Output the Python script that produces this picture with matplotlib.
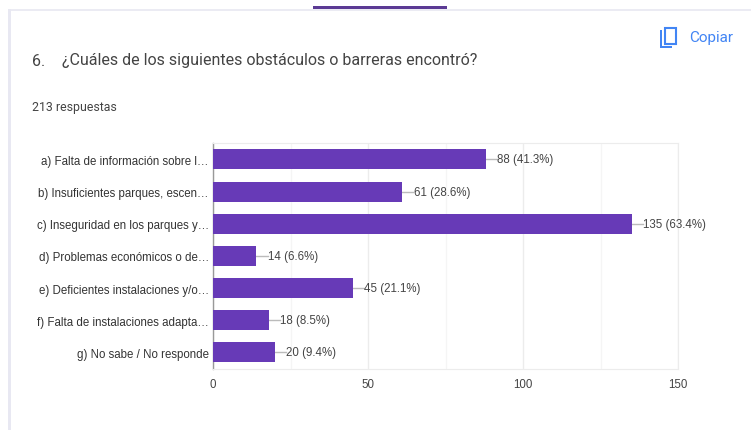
import matplotlib.pyplot as plt
from matplotlib.patches import Rectangle, FancyBboxPatch

categorias = ['a) Falta de información sobre l…', 'b) Insuficientes parques, escen…',
              'c) Inseguridad en los parques y…', 'd) Problemas económicos o de…',
              'e) Deficientes instalaciones y/o…', 'f) Falta de instalaciones adapta…',
              'g) No sabe / No responde']
respuestas = [88, 61, 135, 14, 45, 18, 20]
porcentajes = [41.3, 28.6, 63.4, 6.6, 21.1, 8.5, 9.4]
ticks_x = [0, 50, 100, 150]

W, H = 751, 431
MORADO = '#673ab7'
AZUL = '#4285f4'
GRIS = '#444444'

fig = plt.figure(figsize=(W / 100, H / 100), dpi=100)
fig.patch.set_facecolor('white')


def px_rect(x, y, w, h, **kw):
    # rectangulo en pixeles de la imagen (y hacia abajo)
    fig.add_artist(Rectangle((x / W, 1 - (y + h) / H), w / W, h / H,
                             transform=fig.transFigure, **kw))


def px_text(x, y, s, **kw):
    fig.text(x / W, 1 - y / H, s, **kw)


# marco de la tarjeta
px_rect(8, 10, 743, 2, color='#ebebf3', lw=0)
px_rect(8, 10, 3, 421, color='#e8e8f2', lw=0)
px_rect(313, 7, 134, 3, color='#5b3a94', lw=0)

# textos de cabecera
px_text(32, 61, '6.', family='Roboto', fontsize=11.5, color=GRIS, va='center')
px_text(62, 61, '¿Cuáles de los siguientes obstáculos o barreras encontró?',
        family='Roboto', fontsize=11.5, color=GRIS, va='center')
px_text(32, 107, '213 respuestas', family='Roboto', fontsize=8.9, color=GRIS, va='center')
px_text(689, 38, 'Copiar', family='Roboto', fontsize=11, color=AZUL, va='center')

# icono de copiar
px_rect(660, 31, 2, 17, color=AZUL, lw=0)
px_rect(660, 47, 12, 2, color=AZUL, lw=0)
fig.add_artist(FancyBboxPatch((665 / W, 1 - 45 / H), 11 / W, 16 / H,
                              boxstyle='square,pad=0', transform=fig.transFigure,
                              fc='white', ec=AZUL, lw=1.5))

# grafico
ax = fig.add_axes([213 / W, 1 - 369.5 / H, (678 - 213) / W, (369.5 - 144.3) / H])
y = range(len(categorias))
barras = ax.barh(y, respuestas, height=0.62, color=MORADO, zorder=3)
ax.set_xlim(0, 150)
ax.set_ylim(len(categorias) - 0.5, -0.5)

ax.set_yticks(list(y))
ax.set_yticklabels(categorias, family='Liberation Sans', fontsize=8.3, color='#333333')
ax.set_xticks(ticks_x)
ax.set_xticklabels(ticks_x, family='Liberation Sans', fontsize=8.3, color=GRIS)
ax.set_xticks([25, 75, 125], minor=True)
ax.tick_params(axis='y', length=0, pad=3)
ax.tick_params(axis='x', which='both', length=0, pad=7)

ax.grid(axis='x', which='major', color='#ececec', lw=1, zorder=0)
ax.grid(axis='x', which='minor', color='#f5f5f5', lw=1, zorder=0)

for lado in ['top', 'right', 'bottom']:
    ax.spines[lado].set_color('#ececec')
ax.spines['left'].set_color('#999999')
ax.spines['left'].set_linewidth(1)

# etiquetas con su linea guia
for i, (n, p) in enumerate(zip(respuestas, porcentajes)):
    ax.plot([n, n + 3.6], [i, i], color='#bbbbbb', lw=1, zorder=2, clip_on=False)
    ax.text(n + 3.7, i, f'{n} ({p}%)', family='Liberation Sans', fontsize=8.3,
            color=GRIS, va='center', ha='left', zorder=4)

fig.savefig('out.png', dpi=100)
